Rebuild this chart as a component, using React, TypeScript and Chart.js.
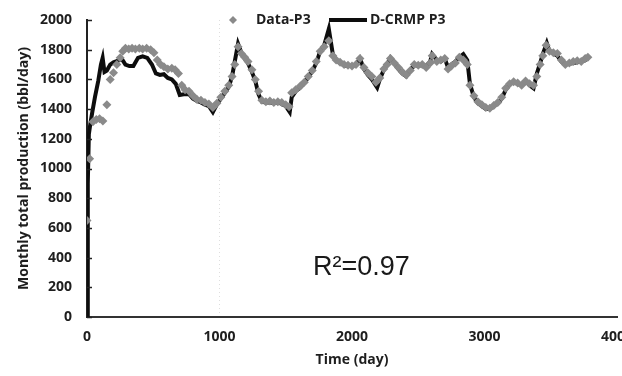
import React, { useEffect, useRef } from "react";
import { Chart, registerables } from "chart.js";

Chart.register(...registerables);

// Measured monthly data (Data-P3)
const dataDays = [
  0, 20, 45, 70, 95, 120, 150, 175, 200, 225, 250, 270, 290, 315, 340, 365, 395, 420, 450, 480,
  505, 530, 555, 580, 610, 640, 665, 690, 715, 740, 770, 800, 830, 860, 890, 920, 950, 980, 1010, 1040,
  1070, 1095, 1115, 1140, 1165, 1190, 1215, 1245, 1270, 1295, 1320, 1350, 1380, 1410, 1440, 1470, 1500, 1525, 1545, 1575,
  1610, 1640, 1670, 1700, 1730, 1760, 1790, 1825, 1855, 1880, 1910, 1940, 1970, 2000, 2030, 2060, 2090, 2120, 2150, 2180,
  2210, 2240, 2265, 2290, 2320, 2350, 2380, 2410, 2440, 2470, 2500, 2530, 2560, 2590, 2605, 2640, 2670, 2700, 2725, 2750,
  2780, 2810, 2840, 2870, 2890, 2920, 2950, 2980, 3010, 3040, 3070, 3100, 3130, 3160, 3190, 3220, 3250, 3280, 3310, 3340,
  3370, 3395, 3420, 3440, 3465, 3490, 3520, 3550, 3580, 3610, 3640, 3670, 3700, 3730, 3760, 3780,
];
const dataValues = [
  650, 1065, 1315, 1330, 1335, 1320, 1430, 1600, 1645, 1700, 1745, 1790, 1810, 1805, 1810, 1805, 1810, 1805, 1810, 1800,
  1780, 1730, 1700, 1685, 1670, 1675, 1665, 1640, 1560, 1530, 1520, 1490, 1465, 1460, 1445, 1435, 1410, 1440, 1480, 1520,
  1560, 1620, 1700, 1820, 1775, 1750, 1720, 1665, 1600, 1520, 1460, 1450, 1455, 1445, 1450, 1445, 1430, 1415, 1510, 1530,
  1555, 1580, 1620, 1660, 1720, 1790, 1820, 1860, 1760, 1730, 1715, 1700, 1695, 1690, 1700, 1740, 1680, 1645, 1620, 1580,
  1610, 1670, 1700, 1740, 1710, 1680, 1650, 1630, 1660, 1700, 1695, 1700, 1680, 1710, 1760, 1720, 1730, 1740, 1670, 1690,
  1710, 1750, 1730, 1700, 1560, 1490, 1450, 1430, 1410, 1405, 1425, 1445, 1480, 1540, 1570, 1585, 1575, 1560, 1590, 1570,
  1560, 1620, 1700, 1760, 1830, 1790, 1780, 1775, 1730, 1700, 1710, 1720, 1725, 1720, 1740, 1750,
];

// Model (D-CRMP P3)
const modelDays = [
  0, 6, 14, 25, 40, 60, 85, 105, 118, 132, 150, 175, 200, 230, 265, 290, 320, 350, 385, 420,
  455, 490, 520, 550, 580, 610, 640, 670, 700, 730, 770, 800, 830, 860, 890, 920, 950, 980, 1010, 1040,
  1070, 1095, 1115, 1140, 1165, 1190, 1215, 1245, 1270, 1295, 1320, 1350, 1380, 1410, 1440, 1470, 1500, 1530, 1545, 1575,
  1610, 1640, 1670, 1700, 1730, 1760, 1790, 1825, 1855, 1880, 1910, 1940, 1970, 2000, 2030, 2060, 2090, 2120, 2150, 2190,
  2210, 2240, 2265, 2290, 2320, 2350, 2380, 2410, 2440, 2470, 2500, 2530, 2560, 2590, 2605, 2640, 2670, 2700, 2725, 2750,
  2780, 2810, 2840, 2870, 2890, 2920, 2950, 2980, 3010, 3040, 3070, 3100, 3130, 3160, 3190, 3220, 3250, 3280, 3310, 3340,
  3370, 3395, 3420, 3440, 3470, 3490, 3520, 3550, 3580, 3610, 3640, 3670, 3700, 3730, 3760, 3780,
];
const modelValues = [
  0, 900, 1230, 1300, 1380, 1480, 1590, 1700, 1745, 1650, 1660, 1700, 1715, 1725, 1735, 1700, 1690, 1690, 1745, 1755,
  1745, 1700, 1640, 1630, 1635, 1610, 1600, 1570, 1495, 1500, 1500, 1470, 1455, 1445, 1430, 1420, 1380, 1430, 1470, 1510,
  1550, 1620, 1720, 1840, 1780, 1740, 1710, 1650, 1590, 1500, 1450, 1445, 1445, 1440, 1445, 1435, 1420, 1380, 1480, 1520,
  1545, 1575, 1615, 1655, 1710, 1790, 1830, 1940, 1770, 1730, 1710, 1695, 1690, 1690, 1700, 1740, 1670, 1630, 1600, 1545,
  1600, 1665, 1700, 1745, 1710, 1670, 1640, 1620, 1660, 1700, 1690, 1700, 1690, 1720, 1770, 1730, 1720, 1740, 1680, 1700,
  1720, 1750, 1770, 1730, 1570, 1480, 1440, 1420, 1400, 1400, 1420, 1440, 1470, 1530, 1570, 1580, 1570, 1560, 1590, 1560,
  1540, 1640, 1710, 1770, 1845, 1790, 1775, 1760, 1720, 1700, 1705, 1710, 1715, 1720, 1730, 1740,
];

const xTicks = [0, 1000, 2000, 3000, 4000];
const yTicks = [0, 200, 400, 600, 800, 1000, 1200, 1400, 1600, 1800, 2000];
const legendLabels = ["Data-P3", "D-CRMP P3"];
const annotationText = "R\u00B2=0.97";
const xTitle = "Time (day)";
const yTitle = "Monthly total production (bbl/day)";

const FONT = "'Open Sans', 'DejaVu Sans', sans-serif";
const TEXT = "#1e1e1e";
const DATA_COLOR = "#8a8a8a";
const LINE_COLOR = "#0d0d0d";

const overlay = {
  id: "overlay",
  afterDraw(chart: any) {
    const ctx = chart.ctx as CanvasRenderingContext2D;
    const y = chart.scales.y;
    const area = chart.chartArea;
    ctx.save();
    // inward y ticks
    ctx.strokeStyle = "#222";
    ctx.lineWidth = 1.5;
    yTicks.forEach((v) => {
      const py = Math.round(y.getPixelForValue(v)) + 0.5;
      ctx.beginPath();
      ctx.moveTo(area.left, py);
      ctx.lineTo(area.left + 5, py);
      ctx.stroke();
    });
    // legend
    const ly = 20;
    ctx.fillStyle = DATA_COLOR;
    ctx.beginPath();
    ctx.moveTo(233, ly - 4);
    ctx.lineTo(237, ly);
    ctx.lineTo(233, ly + 4);
    ctx.lineTo(229, ly);
    ctx.closePath();
    ctx.fill();
    ctx.font = `bold 14px ${FONT}`;
    ctx.fillStyle = TEXT;
    ctx.textBaseline = "middle";
    ctx.textAlign = "left";
    ctx.fillText(legendLabels[0], 256, ly);
    ctx.strokeStyle = LINE_COLOR;
    ctx.lineWidth = 4;
    ctx.beginPath();
    ctx.moveTo(329, ly);
    ctx.lineTo(367, ly);
    ctx.stroke();
    ctx.fillText(legendLabels[1], 370, ly);
    // R2 annotation
    ctx.font = `27px 'Liberation Sans', Arial, sans-serif`;
    ctx.fillStyle = "#1a1a1a";
    ctx.textBaseline = "alphabetic";
    ctx.fillText(annotationText, 313, 275);
    ctx.restore();
  },
};

export default function App() {
  const ref = useRef<HTMLCanvasElement | null>(null);

  useEffect(() => {
    if (!ref.current) return;
    const dataPts = dataDays.map((d, i) => ({ x: d, y: dataValues[i] }));
    const modelPts = modelDays.map((d, i) => ({ x: d, y: modelValues[i] }));
    const tickFont = { family: FONT, size: 14, weight: "bold" as const };
    const chart = new Chart(ref.current, {
      type: "scatter",
      data: {
        datasets: [
          {
            label: legendLabels[0],
            data: dataPts,
            pointStyle: "rectRot",
            pointRadius: 4.5,
            pointBackgroundColor: DATA_COLOR,
            pointBorderColor: DATA_COLOR,
            pointBorderWidth: 0,
            showLine: false,
          },
          {
            label: legendLabels[1],
            data: modelPts,
            showLine: true,
            borderColor: LINE_COLOR,
            borderWidth: 4,
            pointRadius: 0,
            tension: 0,
          },
        ],
      },
      options: {
        animation: false,
        responsive: true,
        maintainAspectRatio: false,
        layout: { padding: { top: 20, right: 5, left: 0, bottom: 0 } },
        plugins: { legend: { display: false }, tooltip: { enabled: false } },
        scales: {
          x: {
            type: "linear",
            min: 0,
            max: 4000,
            afterBuildTicks: (s: any) => {
              s.ticks = xTicks.map((v) => ({ value: v }));
            },
            afterFit: (s: any) => {
              s.height = 59;
              s.paddingLeft = 0;
              s.paddingRight = 0;
            },
            ticks: {
              font: tickFont,
              color: TEXT,
              padding: 12,
              maxRotation: 0,
              callback: (v: any) => String(v),
            },
            grid: {
              drawTicks: false,
              color: (c: any) => (c.tick && c.tick.value === 1000 ? "rgba(190,190,190,0.5)" : "rgba(0,0,0,0)"),
              lineWidth: 1,
            },
            border: { display: true, color: "#333", width: 2, dash: [1, 3] },
            title: {
              display: true,
              text: xTitle,
              font: { family: FONT, size: 14, weight: "bold" },
              color: TEXT,
              padding: { top: 0, bottom: 8 },
            },
          },
          y: {
            type: "linear",
            min: 0,
            max: 2000,
            afterBuildTicks: (s: any) => {
              s.ticks = yTicks.map((v) => ({ value: v }));
            },
            afterFit: (s: any) => {
              s.width = 87;
              s.paddingTop = 0;
              s.paddingBottom = 0;
            },
            ticks: { font: tickFont, color: TEXT, padding: 15, callback: (v: any) => String(v) },
            grid: { display: false, drawTicks: false },
            border: { display: true, color: "#222", width: 2 },
            title: {
              display: true,
              text: yTitle,
              font: { family: FONT, size: 14, weight: "bold" },
              color: TEXT,
              padding: { top: 16, bottom: 0 },
            },
          },
        },
      },
      plugins: [overlay],
    });
    return () => chart.destroy();
  }, []);

  return (
    <div style={{ position: "fixed", left: 0, top: 0, width: 622, height: 376, background: "#fff" }}>
      <canvas ref={ref} />
    </div>
  );
}
